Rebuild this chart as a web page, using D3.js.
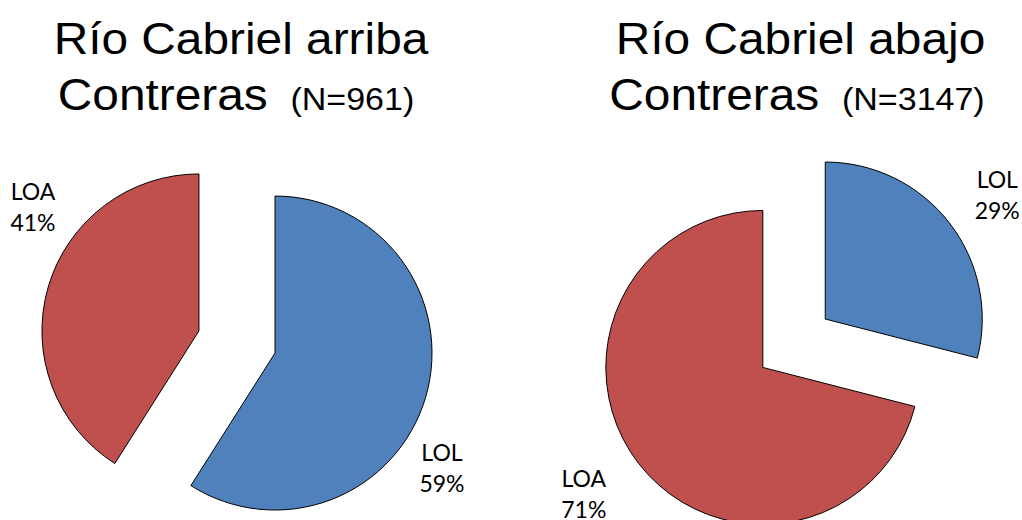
<!DOCTYPE html>
<html>
<head>
<meta charset="utf-8">
<script src="https://cdn.jsdelivr.net/npm/d3@7"></script>
<style>
  body { margin: 0; background: #fff; }
  svg { display: block; }
  .title { font-family: "Liberation Sans", Arial, sans-serif; fill: #000; white-space: pre; text-anchor: middle; }
  .label { font-family: Lato, "Open Sans", sans-serif; font-size: 23px; fill: #000; text-anchor: middle; }
</style>
</head>
<body>
<svg id="chart"></svg>
<script>
// data
const titleLines = ["Río Cabriel arriba", "Río Cabriel abajo"];
const subtitleLines = ["Contreras", "Contreras"];
const sampleSizes = [961, 3147];
const categories = ["LOL", "LOA"];
const arribaValues = [59, 41];
const abajoValues = [29, 71];

const width = 1022, height = 520;
const radius = 157;
const colors = d3.scaleOrdinal().domain(categories).range(["#4F81BD", "#C0504D"]);

// layout of each pie: centre, how far each slice is pulled out, label offsets from slice centre
const layout = [
  { cx: 202.6, cy: 332, title1X: 241, title2X: 236, explode: [75.4, 3.8], labelOffset: [[167, 108], [-166, -131]] },
  { cx: 766, cy: 365, title1X: 800.5, title2X: 797, explode: [75, 4], labelOffset: [[172, -131], [-179, 120]] }
];
const titleStretch = 1.063; // the titles in the picture are a bit wider than Arial

const svg = d3.select('#chart')
    .attr('width', width)
    .attr('height', height);

const pie = d3.pie().sort(null).value(d => d.value);
const arc = d3.arc().innerRadius(0).outerRadius(radius);

[arribaValues, abajoValues].forEach((values, i) => {
  let conf = layout[i];
  let data = categories.map((c, j) => ({ category: c, value: values[j] }));
  let slices = pie(data);

  // title, two lines
  svg.append('text')
      .attr('class', 'title')
      .attr('transform', `translate(${conf.title1X},54) scale(${titleStretch},1)`)
      .style('font-size', '45px')
      .text(titleLines[i]);

  let t2 = svg.append('text')
      .attr('class', 'title')
      .attr('transform', `translate(${conf.title2X},110) scale(${titleStretch},1)`);
  t2.append('tspan').style('font-size', '45px').text(subtitleLines[i] + ' ');
  t2.append('tspan').style('font-size', '32px').text(` (N=${sampleSizes[i]})`);

  let g = svg.append('g');

  slices.forEach((s, j) => {
    let mid = (s.startAngle + s.endAngle) / 2;
    let ox = conf.cx + conf.explode[j] * Math.sin(mid);
    let oy = conf.cy - conf.explode[j] * Math.cos(mid);

    g.append('path')
        .attr('transform', `translate(${ox},${oy})`)
        .attr('d', arc(s))
        .attr('fill', colors(s.data.category))
        .attr('stroke', '#000')
        .attr('stroke-width', 1);

    let lx = ox + conf.labelOffset[j][0];
    let ly = oy + conf.labelOffset[j][1];
    let lab = g.append('text')
        .attr('class', 'label')
        .attr('x', lx)
        .attr('y', ly);
    lab.append('tspan').attr('x', lx).text(s.data.category);
    lab.append('tspan').attr('x', lx).attr('dy', 31).text(s.data.value + '%');
  });
});
</script>
</body>
</html>
